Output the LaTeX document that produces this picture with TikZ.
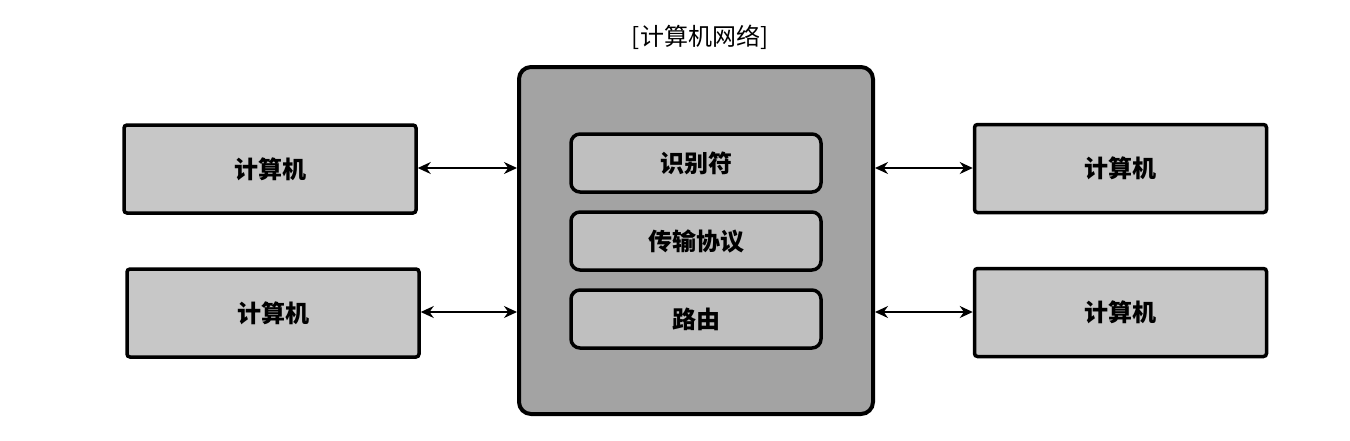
\documentclass[tikz,border=0pt]{standalone}
\usepackage{fontspec}
\setmainfont{Noto Sans CJK SC}
\usetikzlibrary{arrows.meta}
\begin{document}
\begin{tikzpicture}[x=1pt,y=-1pt,
  comp/.style={draw=black,line width=3.5pt,fill=black!22,rounded corners=3pt,minimum width=292pt,minimum height=88pt,inner sep=0pt,font=\fontsize{24}{28}\selectfont\bfseries},
  inbox/.style={draw=black,line width=3.5pt,fill=black!25,rounded corners=9pt,minimum width=250pt,minimum height=58pt,inner sep=0pt,font=\fontsize{24}{28}\selectfont\bfseries},
  link/.style={line width=1.4pt,{Stealth[length=13pt,width=12pt]}-{Stealth[length=13pt,width=12pt]}}]
\useasboundingbox (0,0) rectangle (1350,440);
\node[draw=black,line width=4pt,fill=black!36,rounded corners=12pt,minimum width=354pt,minimum height=347pt,inner sep=0pt] (net) at (696,240.5) {};
\node[font=\fontsize{24}{28}\selectfont] (title) at (700,37) {[计算机网络]};
\node[inbox] (id) at (696,163) {识别符};
\node[inbox] (tp) at (696,241) {传输协议};
\node[inbox] (rt) at (696,319) {路由};
\node[comp] (c1) at (270,169) {计算机};
\node[comp] (c2) at (273,313) {计算机};
\node[comp] (c3) at (1120.5,168.5) {计算机};
\node[comp] (c4) at (1120.5,312.5) {计算机};
\draw[link] (c1.east |- 0,168) -- (net.west |- 0,168);
\draw[link] (c2.east |- 0,312) -- (net.west |- 0,312);
\draw[link] (net.east |- 0,168) -- (c3.west |- 0,168);
\draw[link] (net.east |- 0,312) -- (c4.west |- 0,312);
\end{tikzpicture}
\end{document}
